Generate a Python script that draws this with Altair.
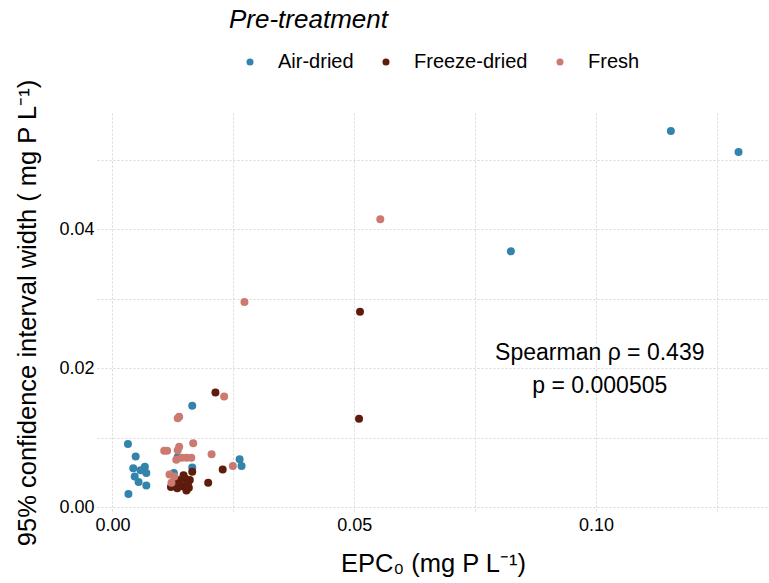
import altair as alt
import pandas as pd

# EPC0 (mg P/L) and 95% CI width (mg P/L) per sample, grouped by pre-treatment
air_x = [0.1295, 0.1155, 0.0824, 0.0165, 0.0032, 0.0048, 0.0043, 0.0067, 0.0058,
         0.0070, 0.0046, 0.0054, 0.0070, 0.0033, 0.0263, 0.0267, 0.0165, 0.0127, 0.0135]
air_y = [0.0511, 0.0541, 0.0368, 0.0146, 0.0091, 0.0073, 0.0056, 0.0058, 0.0053,
         0.0049, 0.0044, 0.0036, 0.0031, 0.0019, 0.0069, 0.0059, 0.0057, 0.0049, 0.0072]

freeze_x = [0.0512, 0.0510, 0.0213, 0.0228, 0.0198, 0.0121, 0.0134, 0.0144, 0.0153,
            0.0160, 0.0165, 0.0151, 0.0156, 0.0140, 0.0130, 0.0147, 0.0138, 0.0158]
freeze_y = [0.0281, 0.0127, 0.0165, 0.0054, 0.0035, 0.0029, 0.0027, 0.0030, 0.0024,
            0.0039, 0.0051, 0.0041, 0.0034, 0.0039, 0.0035, 0.0046, 0.0032, 0.0028]

fresh_x = [0.0554, 0.0273, 0.0231, 0.0138, 0.0135, 0.0167, 0.0138, 0.0135, 0.0107,
           0.0113, 0.0205, 0.0132, 0.0143, 0.0153, 0.0163, 0.0249, 0.0118, 0.0128, 0.0122]
fresh_y = [0.0414, 0.0295, 0.0159, 0.0130, 0.0128, 0.0092, 0.0087, 0.0082, 0.0081,
           0.0081, 0.0076, 0.0068, 0.0071, 0.0071, 0.0071, 0.0059, 0.0047, 0.0044, 0.0035]

groups = ["Air-dried", "Freeze-dried", "Fresh"]
colors = ["#3384ab", "#5e1c0c", "#cc7a70"]

# Correlation annotation
note_lines = ["Spearman \u03c1 = 0.439", "p = 0.000505"]
note_x = [0.1008, 0.1008]
note_y = [0.0222, 0.0174]

rows = []
for g, xs, ys in [(groups[0], air_x, air_y), (groups[1], freeze_x, freeze_y), (groups[2], fresh_x, fresh_y)]:
    for a, b in zip(xs, ys):
        rows.append({"epc0": a, "ciw": b, "Pre-treatment": g})
df = pd.DataFrame(rows)
notes = pd.DataFrame({"x": note_x, "y": note_y, "text": note_lines})

FONT = "Liberation Sans"

x_scale = alt.Scale(domain=[-0.0032, 0.1358], nice=False, zero=False)
y_scale = alt.Scale(domain=[-0.0007, 0.0567], nice=False, zero=False)

x_axis = alt.Axis(
    values=[0, 0.025, 0.05, 0.075, 0.1, 0.125],
    labelExpr="abs(datum.value*20 - round(datum.value*20)) < 1e-6 ? format(datum.value, '.2f') : ''",
    title="EPC\u2080 (mg P L\u207b\u00b9)",
)
y_axis = alt.Axis(
    values=[0, 0.01, 0.02, 0.03, 0.04, 0.05],
    labelExpr="abs(datum.value*50 - round(datum.value*50)) < 1e-6 ? format(datum.value, '.2f') : ''",
    title="95% confidence interval width ( mg P L\u207b\u00b9)",
)

points = alt.Chart(df).mark_circle(size=64, opacity=1).encode(
    x=alt.X("epc0:Q", scale=x_scale, axis=x_axis),
    y=alt.Y("ciw:Q", scale=y_scale, axis=y_axis),
    color=alt.Color(
        "Pre-treatment:N",
        scale=alt.Scale(domain=groups, range=colors),
        legend=alt.Legend(title="Pre-treatment"),
    ),
)

text = alt.Chart(notes).mark_text(fontSize=23, font=FONT, color="black").encode(
    x=alt.X("x:Q", scale=x_scale),
    y=alt.Y("y:Q", scale=y_scale),
    text="text:N",
)

chart = alt.layer(points, text).properties(
    width=672, height=399,
    autosize=alt.AutoSizeParams(type="none"),
    padding={"left": 97, "top": 113, "right": 0, "bottom": 71},
).configure_view(stroke=None).configure_axis(
    grid=True,
    gridColor="#d9d9d9",
    gridDash=[2, 2],
    gridWidth=1,
    ticks=False,
    domain=False,
    labelFont=FONT,
    labelFontSize=18,
    labelColor="black",
    titleFont=FONT,
    titleFontSize=25.5,
    titleFontWeight="normal",
    titleColor="black",
).configure_axisX(
    labelPadding=4,
    titlePadding=17,
).configure_axisY(
    labelPadding=3,
    titlePadding=18,
).configure_legend(
    orient="none",
    legendX=132,
    legendY=-106,
    direction="horizontal",
    titleFont=FONT,
    titleFontSize=26,
    titleFontStyle="italic",
    titleFontWeight="normal",
    titleColor="black",
    titlePadding=19,
    labelFont=FONT,
    labelFontSize=20,
    labelColor="black",
    symbolType="circle",
    symbolSize=50,
    symbolStrokeWidth=0,
    symbolOffset=11,
    labelOffset=18,
    columnPadding=11,
)

chart.save("out.html", embed_options={"renderer": "svg", "actions": False})
